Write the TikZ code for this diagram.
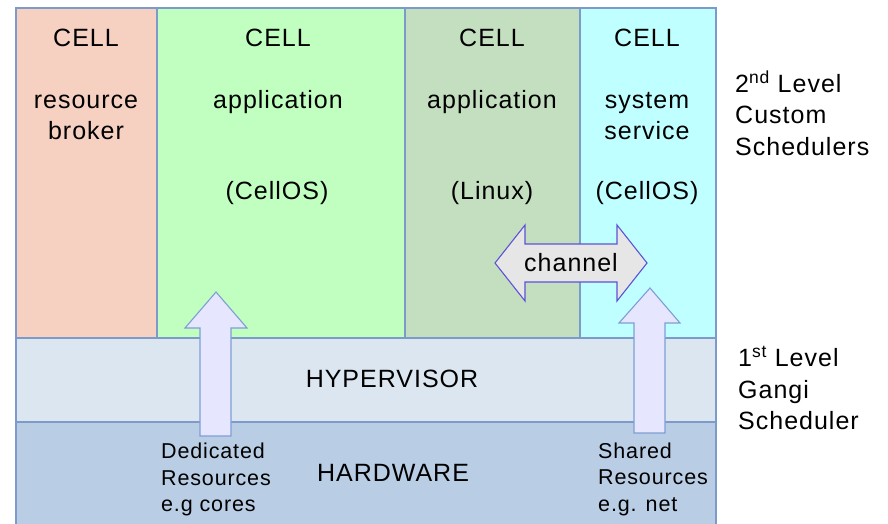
\documentclass[tikz,border=0pt]{standalone}
\usepackage{fontspec}
\setmainfont[LetterSpace=4]{Liberation Sans}
\definecolor{frameblue}{HTML}{7C9BCB}
\definecolor{cellpeach}{HTML}{F6D0C1}
\definecolor{cellgreen}{HTML}{C0FFC0}
\definecolor{cellsage}{HTML}{C4DFC0}
\definecolor{cellcyan}{HTML}{C0FFFF}
\definecolor{hyperfill}{HTML}{DCE6F1}
\definecolor{hardfill}{HTML}{B9CDE5}
\definecolor{resfill}{HTML}{E6E6FF}
\definecolor{resline}{HTML}{7E9ED4}
\definecolor{chanfill}{HTML}{E6E6E6}
\definecolor{chanline}{HTML}{5E52D6}
\tikzset{
  layer/.style={draw=frameblue, line width=1.2pt},
  bigtext/.style={font=\fontsize{25}{31}\selectfont, inner sep=0pt, align=center},
  sidetext/.style={font=\fontsize{25}{31.5}\selectfont, inner sep=0pt, align=left, anchor=west},
  smalltext/.style={font=\fontsize{21.5}{26.5}\selectfont, inner sep=0pt, align=left, anchor=west},
  resarrow/.style={draw=resline, fill=resfill, line width=1.1pt, line join=miter},
  chanarrow/.style={draw=chanline, fill=chanfill, line width=1.1pt, line join=miter},
}
\begin{document}
\begin{tikzpicture}[x=1pt, y=-1pt]
\useasboundingbox (0,0) rectangle (888,524);
\fill[white] (0,0) rectangle (888,524);

% cells
\draw[layer, fill=cellpeach] (16,8) rectangle (157,338);
\draw[layer, fill=cellgreen] (157,8) rectangle (405,338);
\draw[layer, fill=cellsage]  (405,8) rectangle (580,338);
\draw[layer, fill=cellcyan]  (580,8) rectangle (716,338);

% hypervisor and hardware layers
\draw[layer, fill=hyperfill] (16,338) rectangle (716,422);
\draw[layer, fill=hardfill]  (16,422) rectangle (716,530);

% resource arrows
\draw[resarrow] (200,436) -- (200,328) -- (185,328) -- (216,292) -- (247,328) -- (231,328) -- (231,436) -- cycle;
\draw[resarrow] (634,433) -- (634,323) -- (619,323) -- (650,288) -- (680,323) -- (665,323) -- (665,433) -- cycle;

% channel double arrow
\draw[chanarrow] (495,263) -- (525,225) -- (525,244) -- (617,244) -- (617,225) -- (647,263)
  -- (617,301) -- (617,282) -- (525,282) -- (525,301) -- cycle;
\node[bigtext] (chan) at (571,263) {channel};

% cell texts
\node[bigtext] (c1) at (86,38) {CELL};
\node[bigtext] (c1r) at (86,117) {resource\\broker};

\node[bigtext] (c2) at (278,38) {CELL};
\node[bigtext] (c2a) at (278,102) {application};
\node[bigtext] (c2o) at (277,193) {(CellOS)};

\node[bigtext] (c3) at (492,38) {CELL};
\node[bigtext] (c3a) at (492,102) {application};
\node[bigtext] (c3o) at (492,193) {(Linux)};

\node[bigtext] (c4) at (647,38) {CELL};
\node[bigtext] (c4s) at (647,116) {system\\service};
\node[bigtext] (c4o) at (647,193) {(CellOS)};

% layer titles
\node[bigtext] (hyp) at (392,379) {HYPERVISOR};
\node[bigtext] (hw) at (393,473) {HARDWARE};

% resource notes
\node[smalltext] (ded) at (161,479.5) {Dedicated\\Resources\\e.g cores};
\node[smalltext] (sha) at (598,479) {Shared\\Resources\\e.g. net};

% scheduler levels
\node[sidetext] (lvl2) at (735,113) {2\textsuperscript{nd} Level\\Custom\\Schedulers};
\node[sidetext] (lvl1) at (738,388) {1\textsuperscript{st} Level\\Gangi\\Scheduler};
\end{tikzpicture}
\end{document}
